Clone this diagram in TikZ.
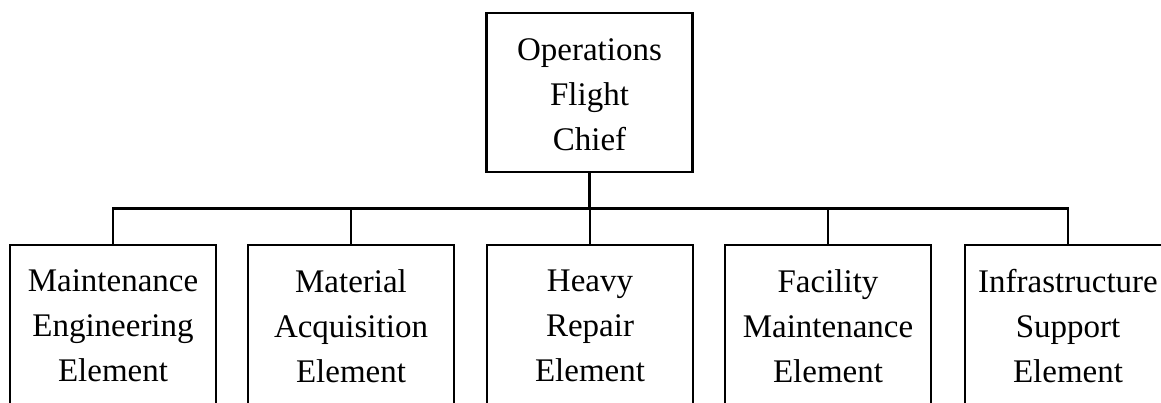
\documentclass[tikz,border=0pt]{standalone}
\usepackage{fontspec}
\setmainfont{Liberation Serif}
\begin{document}
\begin{tikzpicture}[x=1pt,y=1pt,
  line width=2.4pt,
  orgbox/.style={draw, rectangle, minimum width=206pt, inner sep=0pt, outer sep=0pt},
  label/.style={align=center, inner sep=0pt, font=\fontsize{33}{44.8}\selectfont},
  link/.style={draw, line width=2.4pt}
]
\useasboundingbox (0,0) rectangle (1161,-402);
\clip (0,0) rectangle (1161,-402);

% head of the flight
\node[orgbox, minimum height=159pt] (chief) at (589.5,-92.5) {};
\node[label] (chieftxt) at (589.5,-95) {Operations\\Flight\\Chief};

% elements (boxes run past the lower edge)
\foreach \n/\x/\t in {
  e1/113/{Maintenance\\Engineering\\Element},
  e2/351/{Material\\Acquisition\\Element},
  e3/590/{Heavy\\Repair\\Element},
  e4/828/{Facility\\Maintenance\\Element},
  e5/1068/{Infrastructure\\Support\\Element}}{
  \node[orgbox, minimum height=185pt, anchor=north] (\n) at (\x,-245) {};
  \node[label] (\n txt) at (\x,-326) {\t};
}

% connectors
\coordinate (bus) at (0,-208.5);
\draw[link] (e1.north) -- (e1.north |- bus) -- (e5.north |- bus) -- (e5.north);
\draw[link] (chief.south) -- (chief.south |- bus);
\foreach \n in {e2,e3,e4}
  \draw[link] (\n.north) -- (\n.north |- bus);
\end{tikzpicture}
\end{document}
